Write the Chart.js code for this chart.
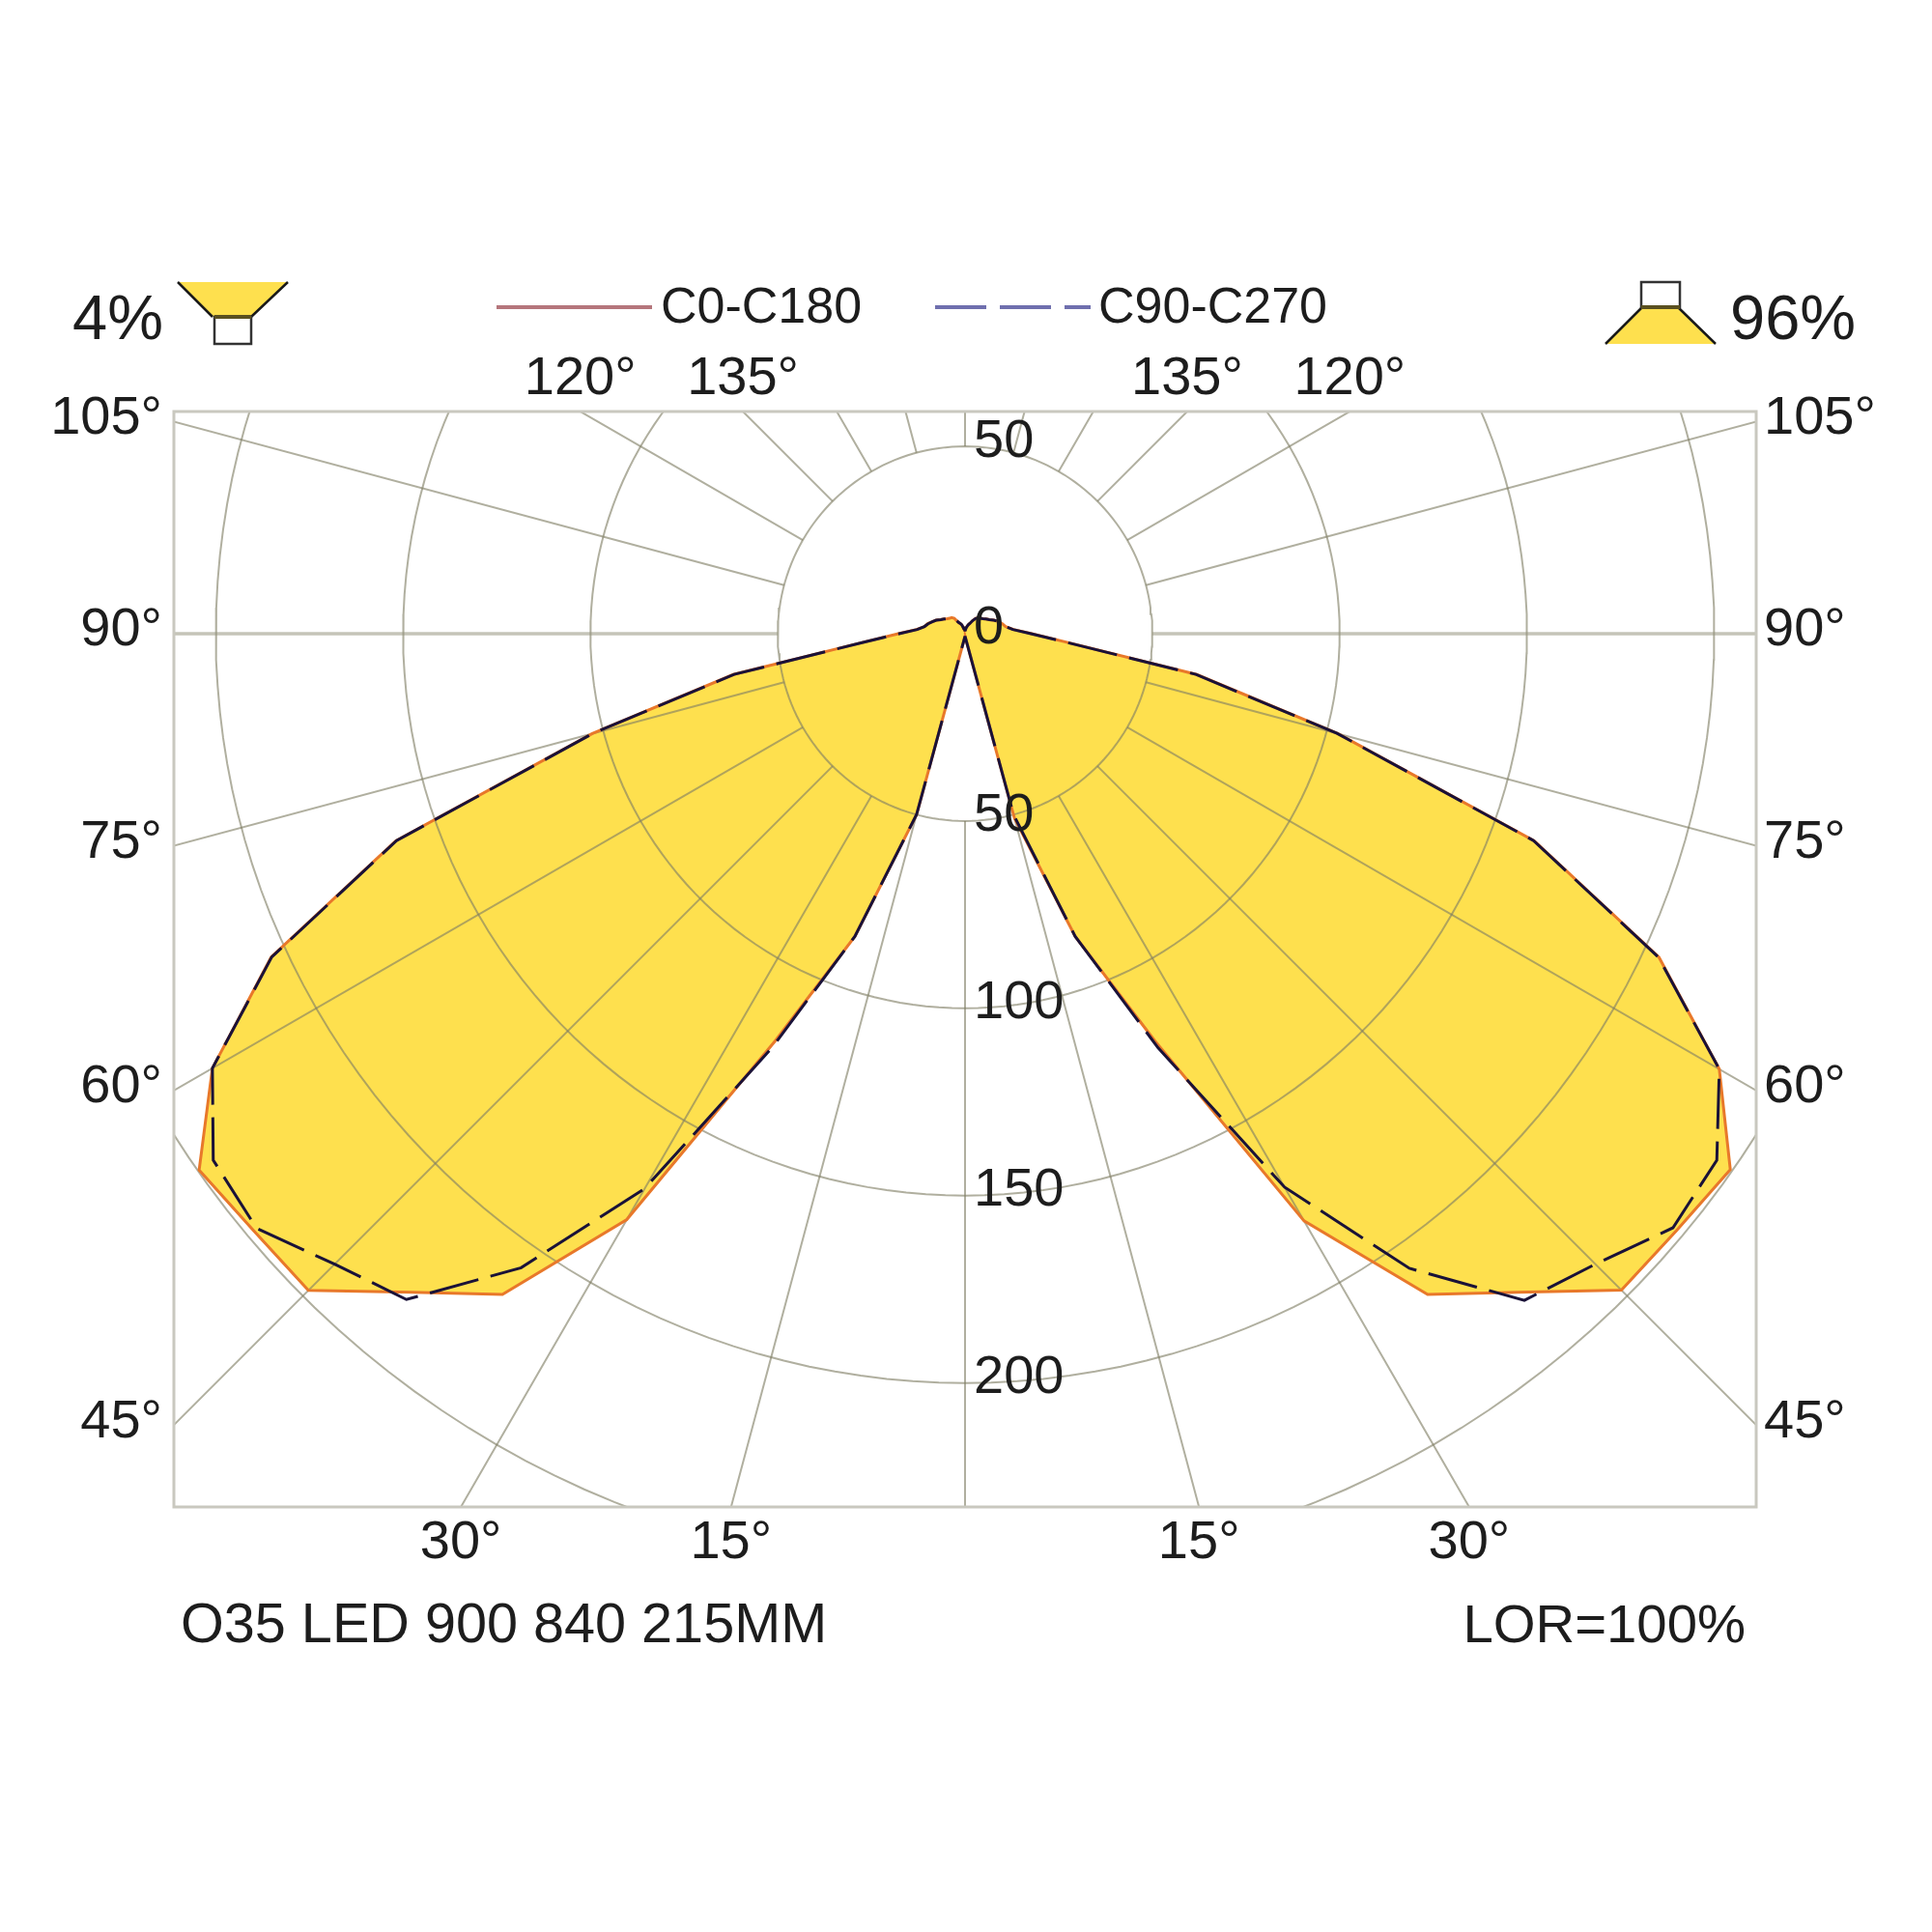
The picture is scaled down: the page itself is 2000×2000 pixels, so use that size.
<!DOCTYPE html>
<html>
<head>
<meta charset="utf-8">
<script src="https://cdn.jsdelivr.net/npm/chart.js@4/dist/chart.umd.js"></script>
<style>
  html, body { margin: 0; padding: 0; background: #fff; }
  canvas { display: block; }
</style>
</head>
<body>
<canvas id="polarChart" width="2000" height="2000"></canvas>
<script>
// angle from straight down, in degrees
const angles = [0, 5, 10, 15, 20, 25, 30, 35, 40, 45, 50, 55, 60, 65, 70, 75, 80, 85, 90,
  95, 100, 105, 110, 115, 120, 125, 130, 135, 140, 145, 150, 155, 160, 165, 170, 175, 180];

// right half
const c0Values = [1, 1, 2, 51, 86, 120, 181, 215.3, 229.5, 247.8, 247.9, 249.4, 232.5, 204.4, 161.7, 103, 62.8, 27.8, 17.8,
  13, 11, 10.3, 9.5, 8.5, 7.5, 6.8, 6.2, 5.8, 5.5, 5, 4, 3, 2.5, 2, 1.5, 1, 1];
const c90Values = [1, 1, 2, 50, 86, 122, 170.6, 206.8, 232.3, 238, 246.7, 245, 232.5, 204.2, 161.5, 102.8, 62.6, 27.6, 17.6,
  12.8, 11, 10.2, 9.5, 8.5, 7.5, 6.8, 6.2, 5.8, 5.4, 5, 4, 3, 2.5, 2, 1.5, 1, 1];
// left half
const c180Values = [1, 1, 2, 50, 86, 120, 180.6, 215.3, 229.5, 247.9, 247.9, 249.6, 232, 204.4, 161.7, 103, 62.8, 27.8, 17.8,
  13, 11, 10.3, 9.3, 8.5, 7.5, 6.8, 6.2, 5.8, 5.6, 5, 3.5, 3, 2.5, 1.5, 1.5, 1, 1];
const c270Values = [1, 1, 2, 50, 86, 122, 171, 206.6, 232, 238, 246.9, 245, 232, 204.2, 161.5, 102.8, 62.6, 27.6, 17.6,
  12.8, 11, 10.2, 9.3, 8.5, 7.5, 6.8, 6.2, 5.8, 5.6, 5, 3.5, 3, 2.5, 1.5, 1.5, 1, 1];

const ringValues = [50, 100, 150, 200, 250];
const thinSpokes = [0, 15, 30, 45, 60, 75, 105, 120, 135, 150, 165, 180];
const thickSpokes = [90];

const sideTicks = [105, 90, 75, 60, 45];
const topTicks = [120, 135, 135, 120];
const bottomTicks = [30, 15, 15, 30];
const radialLabels = ["50", "0", "50", "100", "150", "200"];
const radialLabelValues = [50, 0, -50, -100, -150, -200];

const xLimit = 211.2;
const yTop = 59.3;
const yBottom = -233.1;

const fontFamily = '"Liberation Sans", Arial, sans-serif';
const textColor = "#1d1d1d";
const fillYellow = "#fee04e";
const gridColor = "rgba(128,126,100,0.62)";
const thickGridColor = "rgba(150,148,125,0.55)";
const frameColor = "#c9c8bf";

function toPoint(angle, value, side) {
  const rad = (angle * Math.PI) / 180;
  return { x: side * value * Math.sin(rad), y: -value * Math.cos(rad) };
}

// one closed curve: right half from 0 up to 180, left half back down to 0
function curve(rightValues, leftValues) {
  const right = angles.map((a, i) => toPoint(a, rightValues[i], 1));
  const left = angles.map((a, i) => toPoint(a, leftValues[i], -1)).reverse();
  return right.concat(left);
}

function ringPoints() {
  const pts = [];
  ringValues.forEach((r) => {
    for (let a = 0; a <= 360; a += 2) {
      pts.push(toPoint(a, r, 1));
    }
    pts.push({ x: NaN, y: NaN });
  });
  return pts;
}

function spokePoints(list) {
  const pts = [];
  list.forEach((a) => {
    [1, -1].forEach((side) => {
      pts.push(toPoint(a, ringValues[0], side));
      pts.push(toPoint(a, 400, side));
      pts.push({ x: NaN, y: NaN });
    });
  });
  return pts;
}

// where a spoke at this angle meets the frame
const sideTickY = (a) => -xLimit / Math.tan((a * Math.PI) / 180);
const topTickX = (a, side) => side * yTop * Math.tan(((180 - a) * Math.PI) / 180);
const bottomTickX = (a, side) => side * -yBottom * Math.tan((a * Math.PI) / 180);

const fixedScale = {
  grid: { display: false, drawTicks: false },
  border: { display: false },
};

function tickFont() {
  return { family: fontFamily, size: 56 };
}

function yAxis(position, width, padding) {
  return {
    ...fixedScale,
    type: "linear",
    axis: "y",
    position,
    min: yBottom,
    max: yTop,
    afterBuildTicks: (scale) => {
      scale.ticks = sideTicks.map((a) => ({ value: sideTickY(a) })).reverse();
    },
    afterFit: (scale) => {
      scale.width = width;
    },
    ticks: {
      autoSkip: false,
      padding,
      labelOffset: -3,
      color: textColor,
      font: tickFont(),
      callback: (value, index) => sideTicks[sideTicks.length - 1 - index] + "°",
    },
  };
}

function xAxis(position, height, padding, tickValues, labels) {
  return {
    ...fixedScale,
    type: "linear",
    axis: "x",
    position,
    min: -xLimit,
    max: xLimit,
    afterBuildTicks: (scale) => {
      scale.ticks = tickValues.map((v) => ({ value: v }));
    },
    afterFit: (scale) => {
      scale.height = height;
    },
    ticks: {
      autoSkip: false,
      maxRotation: 0,
      minRotation: 0,
      padding,
      color: textColor,
      font: tickFont(),
      callback: (value, index) => labels[index] + "°",
    },
  };
}

function drawTrapezoid(ctx, topLeft, topRight, bottomLeft, bottomRight, topY, bottomY) {
  ctx.fillStyle = fillYellow;
  ctx.beginPath();
  ctx.moveTo(topLeft, topY);
  ctx.lineTo(topRight, topY);
  ctx.lineTo(bottomRight, bottomY);
  ctx.lineTo(bottomLeft, bottomY);
  ctx.closePath();
  ctx.fill();
  ctx.strokeStyle = "#1a1a1a";
  ctx.lineWidth = 2.5;
  ctx.beginPath();
  ctx.moveTo(topLeft, topY);
  ctx.lineTo(bottomLeft, bottomY);
  ctx.moveTo(topRight, topY);
  ctx.lineTo(bottomRight, bottomY);
  ctx.stroke();
}

const annotations = {
  id: "annotations",
  afterDraw(chart) {
    const { ctx, chartArea, scales } = chart;
    ctx.save();

    // frame
    ctx.strokeStyle = frameColor;
    ctx.lineWidth = 3;
    ctx.strokeRect(chartArea.left, chartArea.top, chartArea.width, chartArea.height);

    // radial values, on top of the rings
    ctx.fillStyle = textColor;
    ctx.font = "56px " + fontFamily;
    ctx.textAlign = "left";
    ctx.textBaseline = "middle";
    radialLabels.forEach((text, i) => {
      ctx.fillText(text, scales.x.getPixelForValue(0) + 9, scales.y.getPixelForValue(radialLabelValues[i]) - 5);
    });

    // legend
    ctx.textBaseline = "alphabetic";
    ctx.font = "52px " + fontFamily;
    ctx.lineWidth = 4;
    ctx.strokeStyle = "#b5767c";
    ctx.beginPath();
    ctx.moveTo(514, 318);
    ctx.lineTo(675, 318);
    ctx.stroke();
    ctx.fillText("C0-C180", 684, 334);
    ctx.strokeStyle = "#6f6fae";
    ctx.setLineDash([53, 14]);
    ctx.beginPath();
    ctx.moveTo(968, 318);
    ctx.lineTo(1129, 318);
    ctx.stroke();
    ctx.setLineDash([]);
    ctx.fillText("C90-C270", 1137, 334);

    // down / up light icons
    drawTrapezoid(ctx, 184, 298, 220, 260, 292, 328);
    ctx.strokeStyle = "#333";
    ctx.lineWidth = 2.5;
    ctx.strokeRect(222, 328, 38, 28);
    ctx.strokeStyle = "#5a5020";
    ctx.lineWidth = 4;
    ctx.beginPath();
    ctx.moveTo(222, 328);
    ctx.lineTo(260, 328);
    ctx.stroke();
    drawTrapezoid(ctx, 1700, 1737, 1662, 1776, 318, 356);
    ctx.strokeStyle = "#333";
    ctx.lineWidth = 2.5;
    ctx.strokeRect(1699, 292, 40, 26);
    ctx.strokeStyle = "#5a5020";
    ctx.lineWidth = 4;
    ctx.beginPath();
    ctx.moveTo(1699, 318);
    ctx.lineTo(1739, 318);
    ctx.stroke();

    ctx.fillStyle = textColor;
    ctx.font = "65px " + fontFamily;
    ctx.fillText("4%", 75, 351);
    ctx.fillText("96%", 1791, 351);

    // footer
    ctx.font = "57.6px " + fontFamily;
    ctx.fillText("O35 LED 900 840 215MM", 187, 1700);
    ctx.font = "56.3px " + fontFamily;
    ctx.textAlign = "right";
    ctx.fillText("LOR=100%", 1807, 1700);

    ctx.restore();
  },
};

new Chart(document.getElementById("polarChart").getContext("2d"), {
  type: "scatter",
  data: {
    datasets: [
      {
        label: "C90-C270",
        data: curve(c90Values, c270Values),
        showLine: true,
        pointRadius: 0,
        borderColor: "#1a1238",
        borderWidth: 3,
        borderDash: [52, 13],
        order: 0,
      },
      {
        label: "C0-C180",
        data: curve(c0Values, c180Values),
        showLine: true,
        pointRadius: 0,
        borderColor: "#e8782a",
        borderWidth: 3,
        order: 1,
      },
      {
        label: "thin spokes",
        data: spokePoints(thinSpokes),
        showLine: true,
        pointRadius: 0,
        borderColor: gridColor,
        borderWidth: 2,
        order: 5,
      },
      {
        label: "thick spokes",
        data: spokePoints(thickSpokes),
        showLine: true,
        pointRadius: 0,
        borderColor: thickGridColor,
        borderWidth: 3.5,
        order: 5,
      },
      {
        label: "rings",
        data: ringPoints(),
        showLine: true,
        pointRadius: 0,
        borderColor: gridColor,
        borderWidth: 2,
        order: 6,
      },
      {
        label: "fill",
        data: curve(c0Values, c180Values),
        showLine: true,
        pointRadius: 0,
        borderWidth: 0,
        borderColor: fillYellow,
        backgroundColor: fillYellow,
        fill: "shape",
        order: 9,
      },
    ],
  },
  options: {
    responsive: false,
    animation: false,
    layout: { padding: 0 },
    scales: {
      x: xAxis("bottom", 440, 4,
        bottomTicks.map((a, i) => bottomTickX(a, i < 2 ? -1 : 1)), bottomTicks),
      xTop: xAxis("top", 426, 0,
        topTicks.map((a, i) => topTickX(a, i < 2 ? -1 : 1)), topTicks),
      y: yAxis("left", 180, 12),
      yRight: yAxis("right", 182, 8),
    },
    plugins: {
      legend: { display: false },
      tooltip: { enabled: false },
    },
  },
  plugins: [annotations],
});
</script>
</body>
</html>
